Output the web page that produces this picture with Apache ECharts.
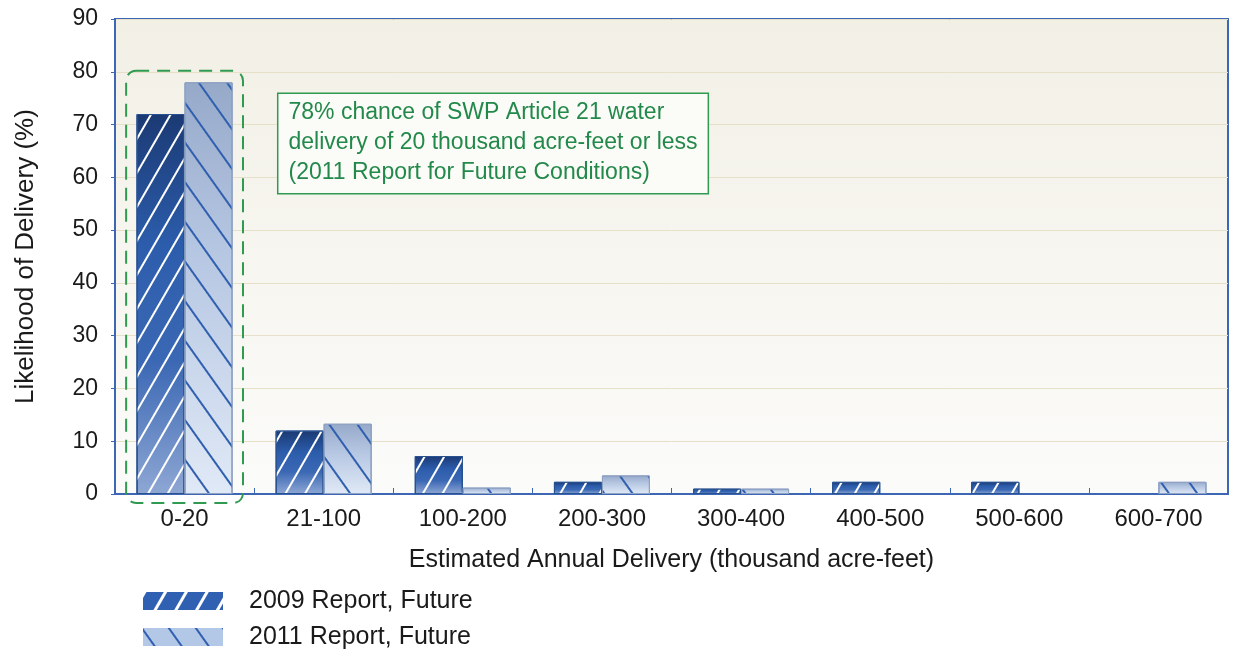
<!DOCTYPE html>
<html><head><meta charset="utf-8">
<script src="https://cdn.jsdelivr.net/npm/echarts@6/dist/echarts.min.js"></script>
<style>html,body{margin:0;padding:0;background:#fff}#c{width:1236px;height:654px}</style>
</head><body><div id="c"></div>
<script>
const categories = ['0-20','21-100','100-200','200-300','300-400','400-500','500-600','600-700'];
const report2009 = [72, 12, 7.2, 2.3, 1, 2.3, 2.3, 0];
const report2011 = [78, 13.3, 1.2, 3.5, 1, 0, 0, 2.3];
const yTicks = {min: 0, max: 90, interval: 10};
const seriesNames = ['2009 Report, Future', '2011 Report, Future'];
const noteLines = ['78% chance of SWP Article 21 water', 'delivery of 20 thousand acre-feet or less', '(2011 Report for Future Conditions)'];

const FONT = 'Liberation Sans, Arial, sans-serif';
const chart = echarts.init(document.getElementById('c'), null, {renderer: 'canvas'});

const grad = (stops) => ({type: 'linear', x: 0, y: 0, x2: 0, y2: 1, colorStops: stops.map((c) => ({offset: c[0], color: c[1]}))});
// zero-height bars are not drawn in the original
const hideZero = (arr) => arr.map((v) => (v === 0 ? '-' : v));

const decal2009 = {symbol: 'rect', symbolSize: 1, dashArrayX: [1, 0], dashArrayY: [2, 15], rotation: -Math.PI / 3, color: '#ffffff'};
const decal2011 = {symbol: 'rect', symbolSize: 1, dashArrayX: [1, 0], dashArrayY: [2, 21], rotation: Math.PI / 3.3, color: '#2f5fae'};

const legendBase = {
  orient: 'vertical', left: 143, padding: 0, itemWidth: 80, itemHeight: 18, icon: 'rect',
  textStyle: {fontSize: 25, lineHeight: 26, color: '#1a1a1a', fontFamily: FONT, padding: [0, 0, 0, 21]}
};

const option = {
  animation: false,
  backgroundColor: '#ffffff',
  textStyle: {fontFamily: FONT},
  grid: {
    left: 115, right: 8, top: 19, bottom: 160, show: true,
    backgroundColor: grad([[0, '#f2f0e5'], [1, '#fbfbfa']]),
    borderColor: '#3d66b5', borderWidth: 2
  },
  legend: [
    Object.assign({}, legendBase, {top: 588, data: [{name: seriesNames[0],
      itemStyle: {color: '#2f60b2', borderWidth: 0, decal: {symbol: 'rect', symbolSize: 1, dashArrayX: [1, 0], dashArrayY: [3, 15], rotation: -Math.PI / 3, color: '#ffffff'}}}]}),
    Object.assign({}, legendBase, {top: 624, data: [{name: seriesNames[1],
      itemStyle: {color: '#b3c7e7', borderWidth: 0, decal: {symbol: 'rect', symbolSize: 1, dashArrayX: [1, 0], dashArrayY: [2, 20], rotation: Math.PI / 3.3, color: '#2f5fae'}}}]})
  ],
  xAxis: {
    type: 'category', data: categories,
    name: 'Estimated Annual Delivery (thousand acre-feet)', nameLocation: 'middle', nameGap: 54,
    nameTextStyle: {fontSize: 25, color: '#1a1a1a', fontFamily: FONT},
    axisLine: {lineStyle: {color: '#3d66b5', width: 2}},
    axisTick: {show: true, inside: true, length: 6, lineStyle: {color: '#3d66b5'}},
    axisLabel: {fontSize: 24, color: '#1a1a1a', margin: 13, fontFamily: FONT},
    splitLine: {show: false}
  },
  yAxis: {
    type: 'value', min: yTicks.min, max: yTicks.max, interval: yTicks.interval,
    name: 'Likelihood of Delivery (%)', nameLocation: 'middle', nameGap: 76, nameRotate: 90,
    nameTextStyle: {fontSize: 26, color: '#1a1a1a', fontFamily: FONT},
    axisLine: {show: true, lineStyle: {color: '#3d66b5', width: 2}},
    axisTick: {show: true, length: 4, lineStyle: {color: '#3d66b5'}},
    axisLabel: {fontSize: 23, color: '#1a1a1a', margin: 17, fontFamily: FONT},
    splitLine: {show: true, lineStyle: {color: '#e6e0c8', width: 1}}
  },
  series: [
    {
      name: seriesNames[0], type: 'bar', data: hideZero(report2009), barWidth: '34.5%', barGap: '0%',
      itemStyle: {
        color: grad([[0, '#1b3a74'], [0.35, '#2c5dac'], [0.65, '#3b68b4'], [1, '#8ea7d4']]),
        borderColor: '#28518f', borderWidth: 1, decal: decal2009
      }
    },
    {
      name: seriesNames[1], type: 'bar', data: hideZero(report2011), barWidth: '34.5%', barGap: '0%',
      itemStyle: {
        color: grad([[0, '#96a9c9'], [0.4, '#b5c6e2'], [1, '#e0e9f6']]),
        borderColor: '#8fa3c4', borderWidth: 1, decal: decal2011
      }
    }
  ]
};
chart.setOption(option);

// decorations positioned via the chart's own scales
const c0 = chart.convertToPixel({xAxisIndex: 0}, categories[0]);
const c1 = chart.convertToPixel({xAxisIndex: 0}, categories[1]);
const band = c1 - c0;
const yTop = chart.convertToPixel({yAxisIndex: 0}, 80.2);
const yZero = chart.convertToPixel({yAxisIndex: 0}, 0);
const noteTop = chart.convertToPixel({yAxisIndex: 0}, 75.8);

chart.setOption({
  graphic: [
    {
      type: 'rect', z: 100, silent: true,
      shape: {x: c0 - band * 0.42, y: yTop, width: band * 0.84, height: yZero - yTop + 9, r: 10},
      style: {fill: 'none', stroke: '#2f9a50', lineWidth: 2, lineDash: [13, 8]}
    },
    {
      type: 'text', z: 100, silent: true,
      x: c1 - band * 0.325, y: noteTop,
      style: {
        text: noteLines.join('\n'), fill: '#23894a', font: '23px ' + FONT, lineHeight: 30,
        backgroundColor: '#fbfbf8', borderColor: '#2f9a50', borderWidth: 1.5,
        padding: [4, 10, 5, 10]
      }
    }
  ]
});
</script></body></html>
